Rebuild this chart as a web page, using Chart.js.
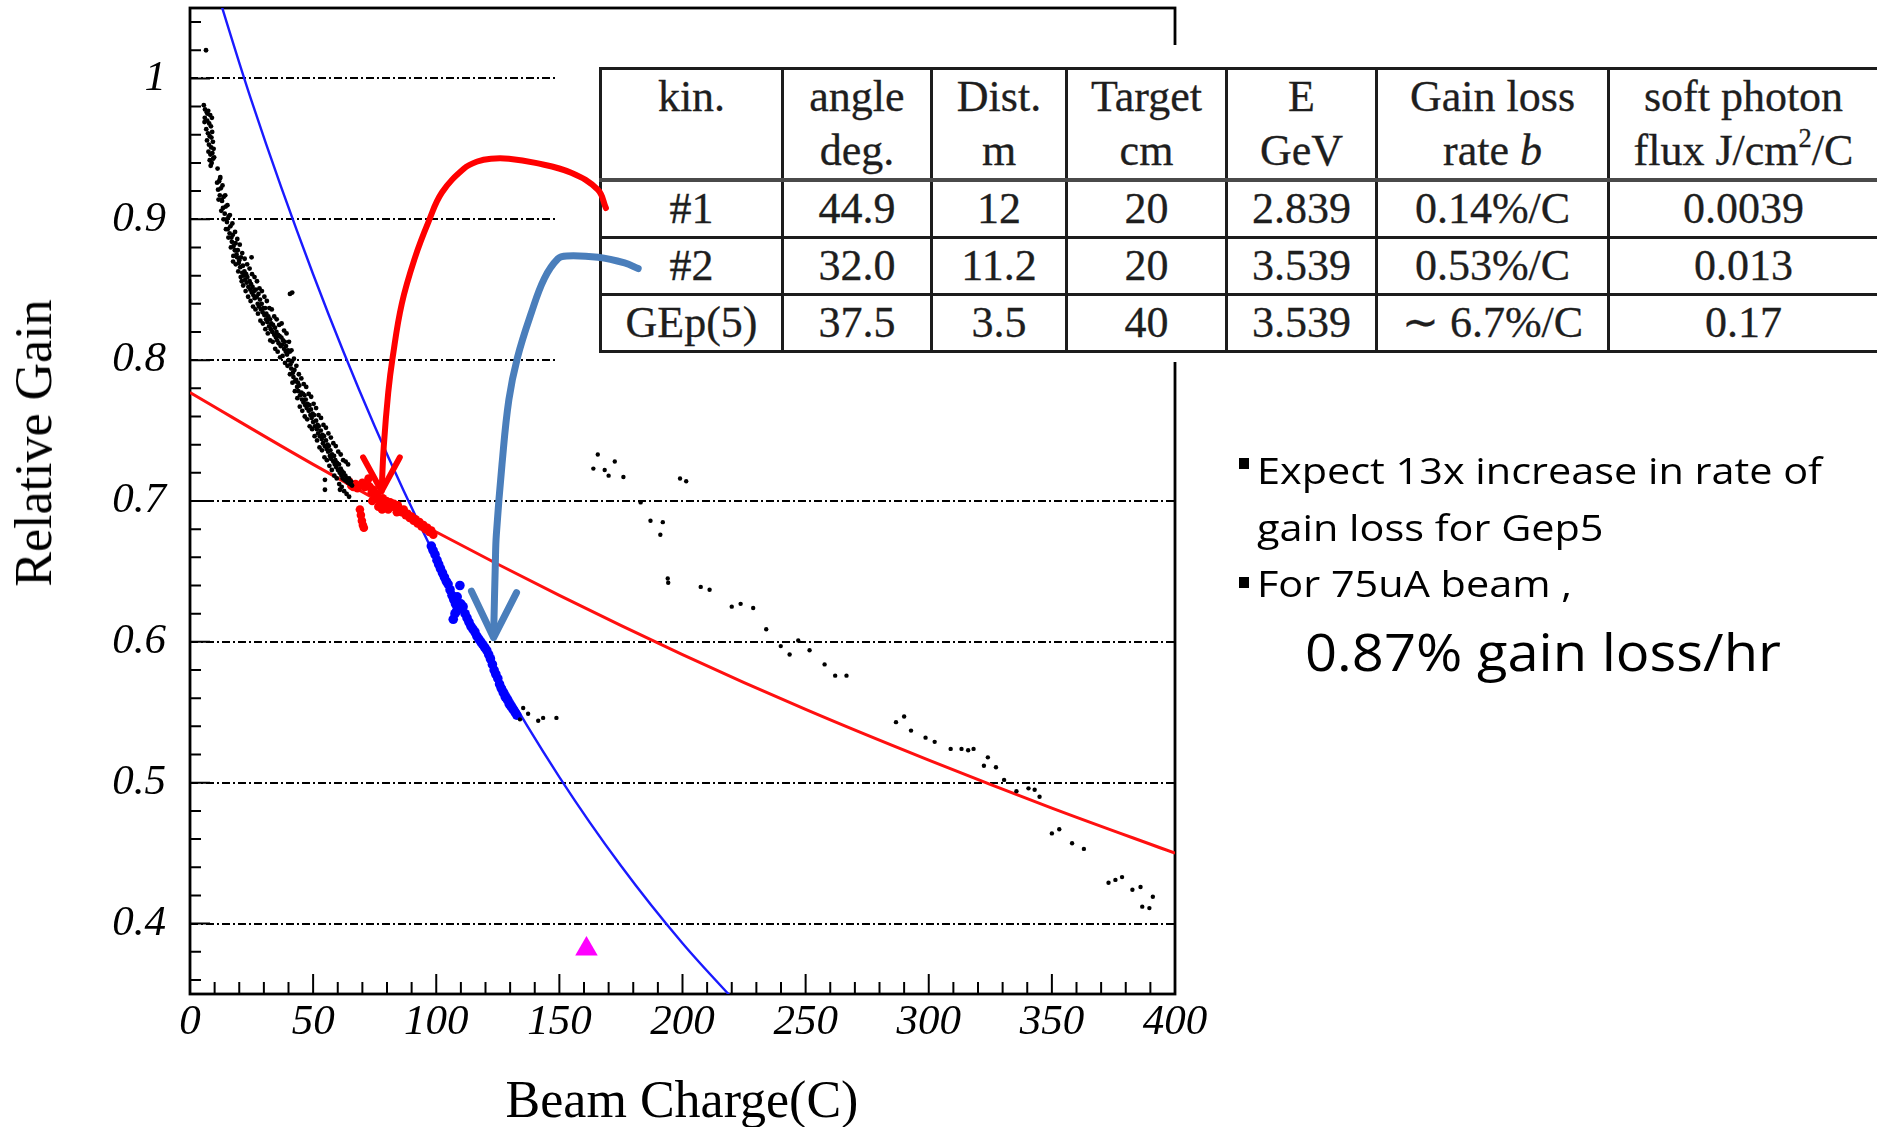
<!DOCTYPE html>
<html>
<head>
<meta charset="utf-8">
<title>Relative gain vs beam charge</title>
<script src="https://cdn.jsdelivr.net/npm/chart.js@4.4.1/dist/chart.umd.min.js"></script>
<style>
  html, body { margin: 0; padding: 0; background: #fff; }
  #page { position: relative; width: 1877px; height: 1127px; overflow: hidden; background: #fff; }
  #tableMask { position: absolute; left: 557px; top: 45px; width: 1320px; height: 317px; background: #fff; z-index: 1; }
  #kinTable { position: absolute; left: 599px; top: 67px; z-index: 2; border-collapse: collapse; table-layout: fixed;
    width: 1278px; font-family: 'Liberation Serif', 'Times New Roman', serif; font-size: 44px; color: #1e1e1e;
    -webkit-text-stroke: 0.3px #1e1e1e; }
  #kinTable td { border: 3px solid #1c1c1c; text-align: center; padding: 0; white-space: nowrap; overflow: hidden; }
  #kinTable tr.hd td { height: 108px; line-height: 54px; vertical-align: top; border-bottom: 4px solid #4a4a4a; }
  #kinTable tr.rw td { height: 54px; line-height: 50px; vertical-align: middle; }
  #kinTable sup { font-size: 0.6em; line-height: 0; vertical-align: 0.7em; }
  #chartBox { position: absolute; left: 0; top: 0; width: 1877px; height: 1127px; z-index: 3; pointer-events: none; }
  .axTitle { position: absolute; z-index: 4; font-family: 'Liberation Serif', 'Times New Roman', serif; font-size: 52px;
    line-height: 52px; white-space: nowrap; color: #000; }
  .txt { position: absolute; z-index: 4; font-family: 'Open Sans', 'Noto Sans', sans-serif; font-size: 36px; line-height: 36px;
    white-space: nowrap; color: #000; transform-origin: left top; transform: scaleX(1.15); }
  .big { font-size: 51px; line-height: 51px; transform: scaleX(1.1); }
  .bul { position: absolute; z-index: 4; width: 10px; height: 11px; background: #000; }
</style>
</head>
<body>
<div id="page">
  <div id="tableMask"></div>
  <table id="kinTable"></table>
  <div id="chartBox"><canvas id="gainChart"></canvas></div>

  <div class="axTitle" style="left:682px; top:1074px; transform:translateX(-50%);">Beam Charge(C)</div>
  <div class="axTitle" style="left:34px; top:443px; transform:translate(-50%,-50%) rotate(-90deg);">Relative Gain</div>

  <div class="bul" style="left:1239px; top:458px;"></div>
  <div class="txt" style="left:1257px; top:453px;">Expect 13x increase in rate of</div>
  <div class="txt" style="left:1257px; top:510px;">gain loss for Gep5</div>
  <div class="bul" style="left:1239px; top:577px;"></div>
  <div class="txt" style="left:1257px; top:566px;">For 75uA beam ,</div>
  <div class="txt big" style="left:1305px; top:626px;">0.87% gain loss/hr</div>
</div>

<script>
// kinematics table
var tableHeader = ['kin.', 'angle<br>deg.', 'Dist.<br>m', 'Target<br>cm', 'E<br>GeV', 'Gain loss<br>rate <i>b</i>', 'soft photon<br>flux J/cm<sup>2</sup>/C'];
var kinRows = [
    ['#1', '44.9', '12', '20', '2.839', '0.14%/C', '0.0039'],
    ['#2', '32.0', '11.2', '20', '3.539', '0.53%/C', '0.013'],
    ['GEp(5)', '37.5', '3.5', '40', '3.539', '\u223C 6.7%/C', '0.17']
];
var colWidths = [182, 149, 135, 160, 150, 232, 270];

// kinematics #1 running, black points
var bandX = [5.6,6.1,6.8,7.4,8.2,8.9,7.0,7.8,8.5,6.6,7.3,8.0,9.0,6.9,7.7,8.6,9.3,7.5,8.3,9.1,8.0,8.8,9.4,8.4,
    11.0,11.4,11.8,12.1,12.5,12.8,13.0,13.4,13.7,14.1,14.5,14.8,15.0,15.3,15.7,16.1,16.4,16.8,17.0,17.4,17.7,
    18.2,18.5,18.9,19.1,19.4,19.8,20.0,20.4,20.7,21.2,21.5,21.9,22.1,22.4,22.8,23.0,23.3,23.7,24.2,24.5,24.8,
    25.1,25.4,25.8,26.0,26.3,26.7,27.1,27.5,27.8,28.0,28.4,28.8,29.1,29.5,29.8,30.2,30.5,30.9,31.0,31.4,31.8,
    32.1,32.5,32.8,33.0,33.4,33.7,34.2,34.5,34.9,35.1,35.4,35.8,36.0,36.4,36.8,37.1,37.5,37.8,38.2,38.5,38.9,
    39.0,39.4,39.8,40.1,40.5,40.8,41.1,41.4,41.8,42.0,42.4,42.7,43.1,43.5,43.8,44.0,44.4,44.7,45.2,45.5,45.9,
    46.1,46.5,46.8,47.0,47.4,47.7,48.2,48.5,48.9,49.1,49.4,49.8,50.0,50.4,50.7,51.2,51.5,51.8,52.0,52.3,52.7,
    53.1,53.5,53.8,54.0,54.4,54.7,55.2,55.5,55.9,56.1,56.4,56.8,57.0,57.3,57.7,58.2,58.5,58.8,59.0,59.4,59.7,
    60.1,60.5,60.8,61.2,61.5,61.8,62.0,62.4,62.7,63.1,63.5,63.8,64.2,64.6,65.0,65.4,65.8,
    12.2,17.5,25.0,21.0,40.6,41.5,54.8,54.8,60.9,6.5,
    6.0,7.1,8.7,9.6,5.9,9.8,
    11.2,11.6,12.3,12.7,13.2,13.6,14.3,14.6,15.2,15.6,16.2,16.6,17.2,17.6,18.3,18.6,19.2,19.6,20.2,20.6,
    21.2,21.6,22.2,22.6,23.2,23.6,24.2,24.6,25.2,25.6,26.2,26.6,27.2,27.6,28.2,28.6,29.2,29.6,30.2,30.6,
    31.2,31.6,32.2,32.6,33.2,33.6,34.2,34.6,35.2,35.6,36.2,36.6,37.2,37.6,38.2,38.6,39.2,39.6,40.2,40.6,
    41.2,41.6,42.2,42.6,43.2,43.6,44.2,44.6,45.2,45.6,46.2,46.6,47.2,47.6,48.2,48.6,49.2,49.6,50.2,50.6,
    51.2,51.6,52.2,52.6,53.2,53.6,54.2,54.6,55.2,55.6,56.2,56.6,57.2,57.6,58.2,58.6,59.2,59.6,60.2,60.6,
    61.2,61.6,62.2,62.6,63.2,63.6,64.2,64.6];
var bandY = [0.981,0.978,0.976,0.977,0.974,0.972,0.970,0.968,0.966,0.964,0.961,0.959,0.962,0.956,0.953,0.951,0.955,0.948,0.946,0.947,0.942,0.940,0.943,0.938,
    0.926,0.921,0.927,0.917,0.922,0.914,0.913,0.908,0.916,0.904,0.909,0.900,0.898,0.893,0.902,0.890,0.895,0.887,0.884,0.889,0.881,
    0.878,0.883,0.875,0.873,0.878,0.869,0.871,0.866,0.873,0.862,0.867,0.860,0.863,0.857,0.861,0.855,0.859,0.852,0.856,0.850,0.854,
    0.848,0.852,0.846,0.849,0.844,0.850,0.845,0.840,0.847,0.838,0.843,0.836,0.840,0.834,0.837,0.832,0.837,0.829,0.833,0.827,0.831,
    0.824,0.829,0.822,0.826,0.820,0.825,0.818,0.823,0.816,0.820,0.814,0.818,0.812,0.817,0.810,0.816,0.811,0.814,0.808,0.813,0.806,
    0.810,0.804,0.807,0.800,0.806,0.797,0.794,0.799,0.791,0.788,0.793,0.785,0.786,0.781,0.784,0.778,0.782,0.775,0.777,0.772,0.776,
    0.770,0.775,0.768,0.772,0.766,0.769,0.764,0.768,0.761,0.765,0.759,0.762,0.756,0.761,0.753,0.757,0.751,0.754,0.748,0.753,0.746,
    0.750,0.744,0.747,0.741,0.746,0.739,0.743,0.737,0.740,0.735,0.739,0.732,0.736,0.730,0.733,0.728,0.732,0.726,0.729,0.724,0.727,
    0.722,0.726,0.720,0.723,0.718,0.721,0.716,0.720,0.715,0.718,0.714,0.716,0.713,0.716,0.712,0.714,0.711,
    0.929,0.870,0.873,0.856,0.847,0.848,0.715,0.708,0.708,1.020,
    0.972,0.975,0.958,0.950,0.969,0.944,
    0.936,0.914,0.930,0.906,0.924,0.900,0.917,0.893,0.910,0.887,0.903,0.880,0.897,0.874,0.891,0.868,0.886,0.863,0.882,0.859,
    0.876,0.853,0.872,0.849,0.868,0.845,0.865,0.842,0.861,0.838,0.859,0.836,0.856,0.833,0.851,0.828,0.849,0.826,0.845,0.822,
    0.842,0.819,0.837,0.814,0.836,0.813,0.831,0.808,0.829,0.806,0.825,0.802,0.826,0.803,0.821,0.798,0.819,0.796,0.813,0.790,
    0.807,0.784,0.801,0.778,0.796,0.773,0.790,0.767,0.787,0.764,0.783,0.760,0.781,0.758,0.776,0.753,0.774,0.751,0.769,0.746,
    0.766,0.743,0.761,0.738,0.759,0.736,0.754,0.731,0.752,0.729,0.748,0.725,0.745,0.722,0.741,0.718,0.739,0.716,0.735,0.712,
    0.733,0.710,0.729,0.707,0.728,0.705,0.726,0.703];

// later runs, sparse black points
var lateX = [135.3,137.3,134.0,141.4,143.4,148.8,165.6,163.8,168.4,172.5,170.0,176.0,199.0,201.5,183.0,187.0,192.0,191.0,
    194.0,194.2,207.4,211.0,220.0,223.6,228.7,234.0,239.9,243.5,247.0,251.6,257.7,262.0,266.6,286.7,290.0,292.8,298.7,
    302.4,308.9,313.3,316.0,318.2,324.0,322.4,327.3,330.6,335.6,340.5,343.0,345.0,350.0,353.0,358.2,363.0,373.0,375.8,
    378.5,382.7,386.0,391.0,386.7,389.6];
var lateY = [0.553,0.549,0.545,0.544,0.546,0.546,0.733,0.723,0.722,0.728,0.718,0.717,0.716,0.714,0.699,0.686,0.685,0.676,
    0.645,0.642,0.639,0.637,0.625,0.627,0.624,0.609,0.597,0.591,0.601,0.594,0.584,0.576,0.576,0.543,0.547,0.537,0.532,
    0.529,0.524,0.524,0.523,0.524,0.518,0.512,0.511,0.502,0.494,0.496,0.495,0.490,0.464,0.467,0.457,0.453,0.429,0.431,
    0.433,0.424,0.426,0.419,0.412,0.411];

// kinematics #1 fit range (red) and #2 (blue)
var redX = [64.5,65.5,66.3,67.2,68.0,69.0,70.0,71.0,72.0,73.0,73.8,74.5,75.3,76.0,76.8,77.5,78.3,79.0,79.8,80.6,81.3,82.0,
    82.8,83.6,84.4,85.2,86.0,86.8,87.6,88.4,89.2,90.0,90.8,91.6,92.4,93.2,94.0,94.8,95.6,96.4,97.2,98.0,98.8,
    69.0,69.4,69.8,70.2,70.6,74.0,76.5,78.0,72.5,80.5,84.0];
var redY = [0.714,0.711,0.710,0.712,0.709,0.711,0.713,0.710,0.712,0.710,0.706,0.708,0.703,0.705,0.701,0.699,0.702,0.698,
    0.700,0.697,0.699,0.696,0.698,0.695,0.697,0.694,0.692,0.694,0.690,0.691,0.688,0.689,0.686,0.687,0.684,0.685,0.682,
    0.683,0.680,0.681,0.678,0.679,0.676,0.694,0.690,0.686,0.683,0.681,0.700,0.696,0.694,0.716,0.694,0.692];
var blueX = [98.0,98.7,99.5,100.3,101.0,101.7,102.5,103.3,104.1,104.8,105.6,106.4,107.1,107.8,108.5,109.6,109.0,110.0,
    110.9,106.9,107.6,108.3,111.7,112.5,113.3,114.1,114.9,115.7,116.5,117.3,118.1,118.9,119.7,120.5,121.3,122.0,122.8,
    123.5,124.2,125.0,125.7,126.4,127.2,128.0,128.8,129.6,130.4,131.2,132.0,132.7];
var blueY = [0.668,0.665,0.662,0.658,0.655,0.652,0.649,0.646,0.643,0.641,0.637,0.633,0.630,0.627,0.632,0.640,0.624,0.627,
    0.625,0.616,0.620,0.622,0.620,0.617,0.614,0.611,0.609,0.607,0.604,0.602,0.600,0.598,0.596,0.594,0.591,0.588,0.584,
    0.580,0.577,0.574,0.570,0.567,0.564,0.561,0.559,0.556,0.554,0.552,0.550,0.548];

// fitted gain-loss curves
var redFitX = [0, 50, 100, 150, 200, 250, 300, 350, 400];
var redFitY = [0.777, 0.726, 0.678, 0.633, 0.591, 0.552, 0.516, 0.482, 0.450];
var blueFitX = [0, 25, 50, 75, 100, 125, 150, 175, 200, 225];
var blueFitY = [1.125, 0.984, 0.861, 0.753, 0.659, 0.576, 0.504, 0.441, 0.386, 0.338];

// GEp(5) projection
var gepX = [161];
var gepY = [0.382];

// hand drawn arrows from the table rows
var redArrowX = [168.9, 165.6, 154.8, 140.3, 129.5, 122.2, 116.7, 111.3, 102.3, 96.8, 91.4, 86.0, 82.3, 80.5, 78.7, 77.8];
var redArrowY = [0.908, 0.921, 0.933, 0.940, 0.943, 0.943, 0.941, 0.936, 0.919, 0.898, 0.873, 0.840, 0.802, 0.777, 0.739, 0.707];
var redHeadX = [70.3, 77.8, 85.2];
var redHeadY = [0.731, 0.707, 0.731];
var blueArrowX = [182.0, 176.5, 165.7, 153.0, 149.4, 143.9, 138.5, 133.0, 129.5, 126.7, 124.4, 124.0, 123.3];
var blueArrowY = [0.865, 0.869, 0.873, 0.874, 0.872, 0.858, 0.833, 0.802, 0.772, 0.726, 0.676, 0.656, 0.605];
var blueHeadX = [114.3, 123.3, 132.6];
var blueHeadY = [0.636, 0.603, 0.635];

// axes
var xMajorTicks = [0, 50, 100, 150, 200, 250, 300, 350, 400];
var xMinorTicks = [10,20,30,40,60,70,80,90,110,120,130,140,160,170,180,190,210,220,230,240,260,270,280,290,
    310,320,330,340,360,370,380,390];
var yMajorTicks = [0.4, 0.5, 0.6, 0.7, 0.8, 0.9, 1];
var yMinorTicks = [0.36,0.38,0.42,0.44,0.46,0.48,0.52,0.54,0.56,0.58,0.62,0.64,0.66,0.68,0.72,0.74,0.76,0.78,
    0.82,0.84,0.86,0.88,0.92,0.94,0.96,0.98,1.02,1.04];

function pts(xs, ys) {
    return xs.map(function(x, i) { return {x: x, y: ys[i]}; });
}

function buildTable() {
    var t = document.getElementById('kinTable');
    var html = '<colgroup>' + colWidths.map(function(w) { return '<col style="width:' + w + 'px">'; }).join('') + '</colgroup>';
    html += '<tr class="hd">' + tableHeader.map(function(h) { return '<td>' + h + '</td>'; }).join('') + '</tr>';
    kinRows.forEach(function(r) {
        html += '<tr class="rw">' + r.map(function(c) { return '<td>' + c + '</td>'; }).join('') + '</tr>';
    });
    t.innerHTML = html;
}

// dash-dot grid, frame and inside ticks like the ROOT canvas; the table box is cut out
var rootFrame = {
    id: 'rootFrame',
    beforeDatasetsDraw: function(chart) {
        var ctx = chart.ctx, a = chart.chartArea, xs = chart.scales.x, ys = chart.scales.y;
        var m = document.getElementById('tableMask').getBoundingClientRect();
        var c = chart.canvas.getBoundingClientRect();
        ctx.save();
        ctx.beginPath();
        ctx.rect(0, 0, chart.width, chart.height);
        ctx.rect(m.left - c.left, m.top - c.top, m.width, m.height);
        ctx.clip('evenodd');

        ctx.strokeStyle = '#000';
        ctx.lineWidth = 2;
        ctx.setLineDash([8, 3, 2, 3]);
        yMajorTicks.forEach(function(v) {
            var py = Math.round(ys.getPixelForValue(v));
            ctx.beginPath();
            ctx.moveTo(a.left, py);
            ctx.lineTo(a.right, py);
            ctx.stroke();
        });
        ctx.setLineDash([]);

        ctx.lineWidth = 2.8;
        ctx.strokeRect(a.left, a.top, a.right - a.left, a.bottom - a.top);

        ctx.lineWidth = 2;
        ctx.beginPath();
        xMajorTicks.forEach(function(v) {
            var px = xs.getPixelForValue(v);
            ctx.moveTo(px, a.bottom); ctx.lineTo(px, a.bottom - 20);
        });
        xMinorTicks.forEach(function(v) {
            var px = xs.getPixelForValue(v);
            ctx.moveTo(px, a.bottom); ctx.lineTo(px, a.bottom - 12);
        });
        yMajorTicks.forEach(function(v) {
            var py = ys.getPixelForValue(v);
            ctx.moveTo(a.left, py); ctx.lineTo(a.left + 20, py);
        });
        yMinorTicks.forEach(function(v) {
            var py = ys.getPixelForValue(v);
            ctx.moveTo(a.left, py); ctx.lineTo(a.left + 11, py);
        });
        ctx.stroke();
        ctx.restore();
    }
};

document.addEventListener('DOMContentLoaded', function() {
    buildTable();

    var tickFont = {family: "'Liberation Serif', 'Times New Roman', serif", size: 43, style: 'italic'};
    var ctx = document.getElementById('gainChart').getContext('2d');

    new Chart(ctx, {
        type: 'scatter',
        data: {
            datasets: [
                { label: 'red arrow', data: pts(redArrowX, redArrowY), showLine: true, tension: 0.4,
                  borderColor: '#ff0000', borderWidth: 6, pointRadius: 0, borderCapStyle: 'round', borderJoinStyle: 'round', order: 0 },
                { label: 'red head', data: pts(redHeadX, redHeadY), showLine: true, tension: 0,
                  borderColor: '#ff0000', borderWidth: 6, pointRadius: 0, borderCapStyle: 'round', borderJoinStyle: 'round', order: 0 },
                { label: 'blue arrow', data: pts(blueArrowX, blueArrowY), showLine: true, tension: 0.4,
                  borderColor: '#4a7ebb', borderWidth: 7, pointRadius: 0, borderCapStyle: 'round', borderJoinStyle: 'round', order: 0 },
                { label: 'blue head', data: pts(blueHeadX, blueHeadY), showLine: true, tension: 0,
                  borderColor: '#4a7ebb', borderWidth: 7, pointRadius: 0, borderCapStyle: 'round', borderJoinStyle: 'round', order: 0 },
                { label: 'kin #1 early', data: pts(bandX, bandY), backgroundColor: '#000', borderWidth: 0, pointRadius: 2.4, order: 1 },
                { label: 'later runs', data: pts(lateX, lateY), backgroundColor: '#000', borderWidth: 0, pointRadius: 2.2, order: 1 },
                { label: 'kin #1', data: pts(redX, redY), backgroundColor: '#ff0000', borderWidth: 0, pointRadius: 4.3, order: 1 },
                { label: 'kin #2', data: pts(blueX, blueY), backgroundColor: '#0000ff', borderWidth: 0, pointRadius: 4.8, order: 1 },
                { label: 'GEp(5)', data: pts(gepX, gepY), backgroundColor: '#ff00ff', borderWidth: 0, pointRadius: 13,
                  pointStyle: 'triangle', order: 1 },
                { label: 'fit #1', data: pts(redFitX, redFitY), showLine: true, cubicInterpolationMode: 'monotone',
                  borderColor: '#ff1010', borderWidth: 3, pointRadius: 0, order: 2 },
                { label: 'fit #2', data: pts(blueFitX, blueFitY), showLine: true, cubicInterpolationMode: 'monotone',
                  borderColor: '#1a1aff', borderWidth: 2.4, pointRadius: 0, order: 2 }
            ]
        },
        options: {
            responsive: true,
            maintainAspectRatio: false,
            animation: false,
            devicePixelRatio: 1,
            layout: { autoPadding: false, padding: { left: 0, top: 8, right: 702, bottom: 0 } },
            plugins: { legend: { display: false }, tooltip: { enabled: false } },
            scales: {
                x: {
                    type: 'linear', min: 0, max: 400,
                    grid: { display: false, drawTicks: false },
                    border: { display: false },
                    afterBuildTicks: function(s) { s.ticks = xMajorTicks.map(function(v) { return {value: v}; }); },
                    afterFit: function(s) { s.height = 133; s.paddingLeft = 0; s.paddingRight = 0; },
                    ticks: { font: tickFont, color: '#000', padding: 3, maxRotation: 0, autoSkip: false,
                             callback: function(v) { return String(v); } }
                },
                y: {
                    type: 'linear', min: 0.35, max: 1.05,
                    grid: { display: false, drawTicks: false },
                    border: { display: false },
                    afterBuildTicks: function(s) { s.ticks = yMajorTicks.map(function(v) { return {value: v}; }); },
                    afterFit: function(s) { s.width = 190; s.paddingTop = 0; s.paddingBottom = 0; },
                    ticks: { font: tickFont, color: '#000', padding: 24, autoSkip: false,
                             callback: function(v) { return v === 1 ? '1' : v.toFixed(1); } }
                }
            }
        },
        plugins: [rootFrame]
    });
});
</script>
</body>
</html>
